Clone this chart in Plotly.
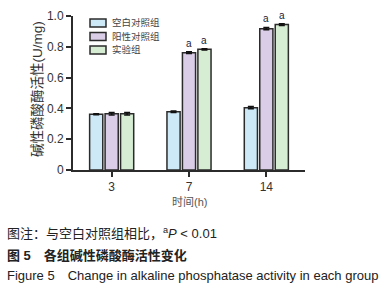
import plotly.graph_objects as go

categories = ["3", "7", "14"]
groups = ["空白对照组", "阳性对照组", "实验组"]
blank = [0.362, 0.378, 0.405]
positive = [0.365, 0.762, 0.918]
experiment = [0.365, 0.784, 0.944]
blank_err = [0.004, 0.005, 0.007]
positive_err = [0.008, 0.006, 0.008]
experiment_err = [0.008, 0.004, 0.005]
sig_positive = ["", "a", "a"]
sig_experiment = ["", "a", "a"]
yticks = [0, 0.2, 0.4, 0.6, 0.8, 1.0]
ytick_labels = ["0", "0.2", "0.4", "0.6", "0.8", "1.0"]

colors = ["#cde9f7", "#dacde7", "#d6ecd3"]
FONT = "Liberation Sans, Arial, Noto Sans CJK SC, sans-serif"

L, R, T, B = 73, 305, 16, 170
W, H = float(R - L), float(B - T)
def px(p):
    return (p - L) / W
def py(p):
    return (B - p) / H

fig = go.Figure()
for name, vals, errs, col in zip(groups, [blank, positive, experiment],
                                 [blank_err, positive_err, experiment_err], colors):
    fig.add_trace(go.Bar(
        x=categories, y=vals, name=name, showlegend=False,
        marker=dict(color=col, line=dict(color="#2b2b2b", width=1.5)),
        error_y=dict(type="data", array=errs, color="#111111", thickness=1.5, width=3),
    ))

annotations = []
shapes = []
offsets = {1: 0.0, 2: 0.2}
for gi, (vals, errs, sig) in enumerate([(positive, positive_err, sig_positive),
                                       (experiment, experiment_err, sig_experiment)], start=1):
    for i, s in enumerate(sig):
        if s:
            annotations.append(dict(
                x=i + offsets[gi], y=vals[i] + errs[i], xref="x", yref="y",
                text=s, showarrow=False, yanchor="bottom", yshift=1,
                font=dict(size=10, color="#1a1a3a", family=FONT)))

# manual legend
for k, (name, col) in enumerate(zip(groups, colors)):
    cy = 23 + k * 13.5
    shapes.append(dict(type="rect", xref="paper", yref="paper",
                       x0=px(90), x1=px(106), y0=py(cy + 4), y1=py(cy - 4),
                       fillcolor=col, line=dict(color="#2b2b2b", width=1.5)))
    annotations.append(dict(x=px(110), y=py(cy), xref="paper", yref="paper",
                            xanchor="left", yanchor="middle", text=name, showarrow=False,
                            font=dict(size=9.5, color="#444444", family=FONT)))

annotations += [
    dict(x=px(5), y=py(233), xref="paper", yref="paper", xanchor="left", yanchor="middle",
         text="图注：与空白对照组相比，<sup>a</sup><i>P</i> < 0.01", showarrow=False,
         font=dict(size=13, color="#222222", family=FONT)),
    dict(x=px(5), y=py(255), xref="paper", yref="paper", xanchor="left", yanchor="middle",
         text="<b>图 5　各组碱性磷酸酶活性变化</b>", showarrow=False,
         font=dict(size=13, color="#222222", family=FONT)),
    dict(x=px(5), y=py(275), xref="paper", yref="paper", xanchor="left", yanchor="middle",
         text="Figure 5　Change in alkaline phosphatase activity in each group", showarrow=False,
         font=dict(size=13, color="#222222", family=FONT)),
    dict(x=px(189), y=py(202), xref="paper", yref="paper", xanchor="center", yanchor="middle",
         text="时间(h)", showarrow=False, font=dict(size=11, color="#555555", family=FONT)),
    dict(x=px(37), y=py(89), xref="paper", yref="paper", xanchor="center", yanchor="middle",
         text="碱性磷酸酶活性(U/mg)", textangle=-90, showarrow=False,
         font=dict(size=13.5, color="#333333", family=FONT)),
]

fig.update_layout(
    width=392, height=291,
    margin=dict(l=L, r=392 - R, t=T, b=291 - B, autoexpand=False),
    paper_bgcolor="white", plot_bgcolor="white",
    barmode="group", bargap=0.4, bargroupgap=0.15,
    showlegend=False,
    annotations=annotations,
    shapes=shapes,
    font=dict(family=FONT),
)
fig.update_xaxes(
    type="category", range=[-0.5, 2.5],
    showline=True, linecolor="#2b2b2b", linewidth=2,
    ticks="outside", ticklen=5, tickwidth=1.5, tickcolor="#2b2b2b",
    tickfont=dict(size=12, color="#333333", family=FONT),
    showgrid=False, zeroline=False,
)
fig.update_yaxes(
    range=[0, 1.0], tickvals=yticks, ticktext=ytick_labels,
    showline=True, linecolor="#2b2b2b", linewidth=2,
    ticks="outside", ticklen=5, tickwidth=1.5, tickcolor="#2b2b2b",
    tickfont=dict(size=12, color="#333333", family=FONT),
    showgrid=False, zeroline=False,
)

fig.write_html("out.html", config={"displayModeBar": False},
               post_script="document.body.style.margin='0';")
